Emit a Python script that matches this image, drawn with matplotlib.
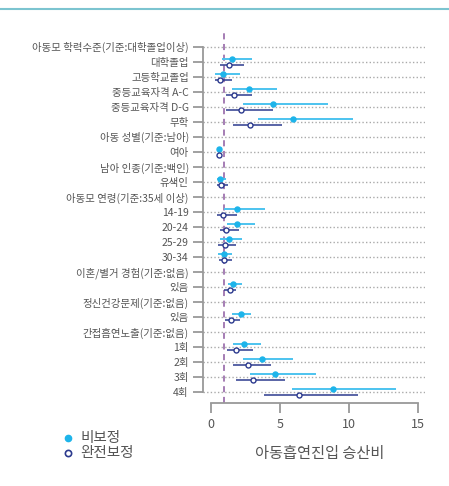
import numpy as np
import matplotlib
matplotlib.use('Agg')
import matplotlib.pyplot as plt
from matplotlib.lines import Line2D

plt.rcParams['font.family'] = ['Noto Sans CJK KR', 'DejaVu Sans']

labels = ['아동모 학력수준(기준:대학졸업이상)', '대학졸업', '고등학교졸업', '중등교육자격 A-C',
          '중등교육자격 D-G', '무학', '아동 성별(기준:남아)', '여아', '남아 인종(기준:백인)',
          '유색인', '아동모 연령(기준:35세 이상)', '14-19', '20-24', '25-29', '30-34',
          '이혼/별거 경험(기준:없음)', '있음', '정신건강문제(기준:없음)', '있음',
          '간접흡연노출(기준:없음)', '1회', '2회', '3회', '4회']
n = np.nan
# 비보정 (unadjusted)
or_raw = [n, 1.55, 0.89, 2.76, 4.50, 5.95, n, 0.58, n, 0.65, n, 1.94, 1.94, 1.31, 0.94,
          n, 1.62, n, 2.18, n, 2.42, 3.70, 4.67, 8.83]
lo_raw = [n, 0.82, 0.34, 1.57, 2.34, 3.43, n, 0.55, n, 0.44, n, 0.94, 1.16, 0.70, 0.56,
          n, 1.23, n, 1.57, n, 1.62, 2.34, 2.85, 5.88]
hi_raw = [n, 3.00, 2.10, 4.81, 8.47, 10.30, n, 0.61, n, 1.09, n, 3.90, 3.19, 2.25, 1.57,
          n, 2.25, n, 2.95, n, 3.68, 5.93, 7.62, 13.40]
# 완전보정 (fully adjusted)
or_adj = [n, 1.31, 0.65, 1.69, 2.23, 2.88, n, 0.58, n, 0.78, n, 0.89, 1.14, 1.04, 0.94,
          n, 1.38, n, 1.45, n, 1.87, 2.69, 3.10, 6.41]
lo_adj = [n, 0.65, 0.29, 1.09, 1.14, 1.62, n, 0.55, n, 0.44, n, 0.44, 0.65, 0.56, 0.58,
          n, 0.99, n, 1.07, n, 1.21, 1.62, 1.81, 3.85]
hi_adj = [n, 2.39, 1.57, 2.98, 4.52, 5.17, n, 0.61, n, 1.28, n, 1.94, 2.05, 1.87, 1.57,
          n, 1.87, n, 2.10, n, 3.07, 4.40, 5.37, 10.67]

c_raw = '#1db4ea'
c_raw_ci = '#4cc3ef'
c_adj = '#2c3a8e'
grey = '#555555'

fig = plt.figure(figsize=(4.49, 4.86), dpi=100)
ax = fig.add_axes([0.4514, 0.1714, 0.4943, 0.7628])

y = np.arange(len(labels))
off = 0.2
for i in y:
    ax.plot([-0.58, 15.5], [i, i], ls=(0, (1, 1.6)), color='#aaaaaa', lw=1.0, zorder=1)

ax.axvline(1, color='#8d5aa0', ls=(0, (4, 3)), lw=1.1, zorder=2)

ax.hlines(y - off, lo_raw, hi_raw, color=c_raw_ci, lw=1.4, zorder=3)
ax.plot(or_raw, y - off, 'o', color=c_raw, ms=3.6, zorder=4)
ax.hlines(y + off, lo_adj, hi_adj, color=c_adj, lw=1.1, zorder=3)
ax.plot(or_adj, y + off, 'o', mfc='white', mec=c_adj, mew=1.0, ms=3.6, zorder=4)

ax.set_xlim(-0.58, 15.5)
ax.set_ylim(23.69, -0.98)
ax.set_yticks(y)
ax.set_yticklabels(labels, fontsize=7.5, color=grey)
ax.set_xticks([0, 5, 10, 15])
ax.set_xticklabels(['0', '5', '10', '15'], fontsize=9, color=grey)

for s in ['top', 'right']:
    ax.spines[s].set_visible(False)
ax.spines['left'].set_bounds(0, 23)
ax.spines['bottom'].set_bounds(0, 15)
ax.spines['left'].set_color('#999999')
ax.spines['bottom'].set_color('#999999')
ax.spines['left'].set_linewidth(1.3)
ax.spines['bottom'].set_linewidth(1.3)
ax.tick_params(axis='y', length=7, width=1.3, color='#999999', pad=3)
ax.tick_params(axis='x', length=7, width=1.3, color='#999999', pad=4)

fig.text(320 / 449, 1 - 453 / 486, '아동흡연진입 승산비', fontsize=11, color=grey,
         ha='center', va='center')

# legend
fig.add_artist(Line2D([68 / 449], [1 - 438 / 486], marker='o', color=c_raw, ms=4.5, lw=0))
fig.add_artist(Line2D([68 / 449], [1 - 453 / 486], marker='o', mfc='white', mec=c_adj,
                      mew=1.2, ms=4.5, lw=0))
fig.text(80 / 449, 1 - 438 / 486, '비보정', fontsize=10.5, color=grey, va='center')
fig.text(80 / 449, 1 - 453 / 486, '완전보정', fontsize=10.5, color=grey, va='center')

fig.add_artist(Line2D([0, 1], [1 - 9 / 486, 1 - 9 / 486], color='#7cc4d0', lw=1.5))

fig.savefig('out.png', dpi=100)
